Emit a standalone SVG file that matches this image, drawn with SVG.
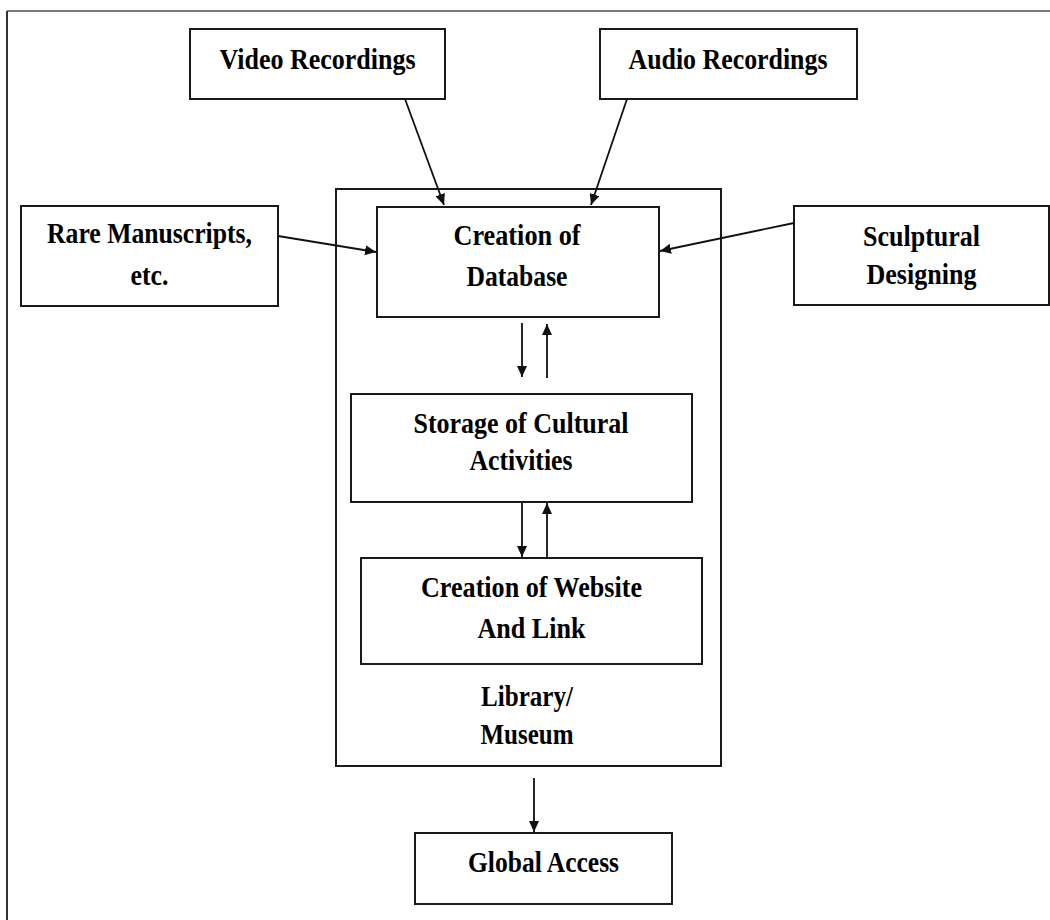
<svg xmlns="http://www.w3.org/2000/svg" width="1050" height="920" viewBox="0 0 1050 920">
  <defs>
    <marker id="ah" markerUnits="userSpaceOnUse" markerWidth="12" markerHeight="10" refX="11" refY="5" orient="auto">
      <path d="M0,0 L11,5 L0,10 z" fill="#111"/>
    </marker>
    <style>
      .box { fill: #ffffff; stroke: #1a1a1a; stroke-width: 2; }
      .lbl { font-family: "Liberation Serif", "Times New Roman", serif; font-weight: bold; font-size: 30px; fill: #000; text-anchor: middle; }
      .conn line { stroke: #111; stroke-width: 1.8; marker-end: url(#ah); }
    </style>
  </defs>
  <rect x="0" y="0" width="1050" height="920" fill="#ffffff"/>
  <g id="frame">
    <path d="M7,11 L1050,11" stroke="#7a7a7a" stroke-width="2" fill="none"/>
    <path d="M7,11 L7,920" stroke="#333" stroke-width="2" fill="none"/>
  </g>

  <g id="library">
    <rect class="box" x="336" y="189" width="385" height="577"/>
    <text class="lbl" x="527" y="706" textLength="92" lengthAdjust="spacingAndGlyphs">Library/</text>
    <text class="lbl" x="527" y="744" textLength="93" lengthAdjust="spacingAndGlyphs">Museum</text>
  </g>

  <g id="video">
    <rect class="box" x="190" y="29" width="255" height="70"/>
    <text class="lbl" x="317.5" y="69" textLength="196" lengthAdjust="spacingAndGlyphs">Video Recordings</text>
  </g>

  <g id="audio">
    <rect class="box" x="600" y="29" width="257" height="70"/>
    <text class="lbl" x="728" y="69" textLength="199" lengthAdjust="spacingAndGlyphs">Audio Recordings</text>
  </g>

  <g id="rare">
    <rect class="box" x="21" y="206" width="257" height="100"/>
    <text class="lbl" x="149.5" y="243" textLength="205" lengthAdjust="spacingAndGlyphs">Rare Manuscripts,</text>
    <text class="lbl" x="149.5" y="285" textLength="38" lengthAdjust="spacingAndGlyphs">etc.</text>
  </g>

  <g id="sculptural">
    <rect class="box" x="794" y="206" width="255" height="99"/>
    <text class="lbl" x="921.5" y="246" textLength="117" lengthAdjust="spacingAndGlyphs">Sculptural</text>
    <text class="lbl" x="921.5" y="284" textLength="110" lengthAdjust="spacingAndGlyphs">Designing</text>
  </g>

  <g id="database">
    <rect class="box" x="377" y="207" width="282" height="110"/>
    <text class="lbl" x="517" y="245" textLength="127" lengthAdjust="spacingAndGlyphs">Creation of</text>
    <text class="lbl" x="517" y="286" textLength="101" lengthAdjust="spacingAndGlyphs">Database</text>
  </g>

  <g id="storage">
    <rect class="box" x="351" y="394" width="341" height="108"/>
    <text class="lbl" x="521" y="433" textLength="215" lengthAdjust="spacingAndGlyphs">Storage of Cultural</text>
    <text class="lbl" x="521" y="470" textLength="103" lengthAdjust="spacingAndGlyphs">Activities</text>
  </g>

  <g id="website">
    <rect class="box" x="361" y="558" width="341" height="106"/>
    <text class="lbl" x="531.5" y="597" textLength="221" lengthAdjust="spacingAndGlyphs">Creation of Website</text>
    <text class="lbl" x="531.5" y="638" textLength="108" lengthAdjust="spacingAndGlyphs">And Link</text>
  </g>

  <g id="global">
    <rect class="box" x="415" y="833" width="257" height="71"/>
    <text class="lbl" x="543.5" y="872" textLength="151" lengthAdjust="spacingAndGlyphs">Global Access</text>
  </g>

  <g id="connectors" class="conn">
    <line x1="405" y1="99" x2="444" y2="205"/>
    <line x1="627" y1="99" x2="591" y2="205"/>
    <line x1="278" y1="236" x2="376" y2="252"/>
    <line x1="794" y1="223" x2="660" y2="251"/>
    <line x1="522" y1="323" x2="522" y2="377"/>
    <line x1="547" y1="378" x2="547" y2="324"/>
    <line x1="522" y1="503" x2="522" y2="557"/>
    <line x1="547" y1="557" x2="547" y2="503"/>
    <line x1="534" y1="778" x2="534" y2="832"/>
  </g>
</svg>
